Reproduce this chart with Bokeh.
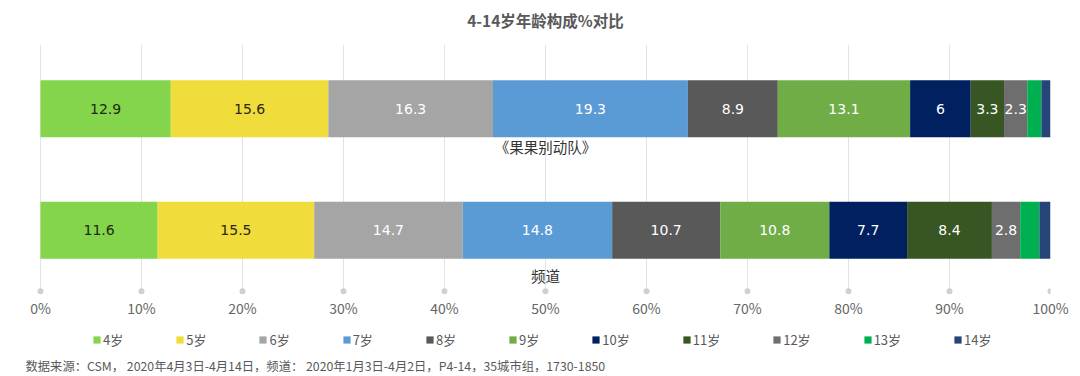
from bokeh.plotting import figure
from bokeh.layouts import column
from bokeh.models import (ColumnDataSource, FactorRange, Range1d, FixedTicker,
                          PrintfTickFormatter, Legend, LegendItem, Label)
from bokeh.transform import dodge
from bokeh.core.properties import value
from bokeh.embed import file_html
from bokeh.resources import INLINE

# ---------------- data ----------------
categories = ["频道", "《果果别动队》"]
ages = ["4岁", "5岁", "6岁", "7岁", "8岁", "9岁", "10岁", "11岁", "12岁", "13岁", "14岁"]
channel_values = [11.6, 15.5, 14.7, 14.8, 10.7, 10.8, 7.7, 8.4, 2.8, 1.9, 1.1]
program_values = [12.9, 15.6, 16.3, 19.3, 8.9, 13.1, 6, 3.3, 2.3, 1.4, 0.9]
colors = ["#84D54B", "#F0DC3A", "#A5A5A5", "#5B9BD5", "#595959", "#70AD47",
          "#002060", "#375623", "#6E6E6E", "#00B050", "#264478"]
label_colors = ["#1E2A12", "#2A2712", "#FFFFFF", "#FFFFFF", "#FFFFFF", "#FFFFFF",
                "#FFFFFF", "#FFFFFF", "#FFFFFF", "#FFFFFF", "#FFFFFF"]
tick_values = [0, 10, 20, 30, 40, 50, 60, 70, 80, 90, 100]
title_text = "4-14岁年龄构成%对比"
footer_text = "数据来源：CSM， 2020年4月3日-4月14日，频道： 2020年1月3日-4月2日，P4-14，35城市组，1730-1850"

CJK = "Noto Sans CJK SC"


def strip(height):
    f = figure(width=1080, height=height, output_backend="svg", toolbar_location=None,
               x_range=Range1d(0, 1), y_range=Range1d(0, 1),
               x_axis_location=None, y_axis_location=None,
               min_border_left=0, min_border_right=0,
               min_border_top=0, min_border_bottom=0)
    f.outline_line_color = None
    f.grid.visible = False
    f.border_fill_color = "white"
    return f


# ---------------- title strip ----------------
t = strip(44)
t.add_layout(Label(x=520, y=25, x_units="screen", y_units="screen",
                   text=title_text, text_font=CJK, text_font_size="15.5px",
                   text_font_style="bold", text_color="#595959",
                   text_align="center", text_baseline="middle"))

# ---------------- main figure ----------------
p = figure(width=1080, height=278, output_backend="svg", toolbar_location=None,
           x_range=Range1d(-1.485, 100),
           y_range=FactorRange(factors=categories, range_padding=0.03,
                               range_padding_units="absolute"),
           y_axis_location=None,
           min_border_left=25, min_border_right=30,
           min_border_top=0, min_border_bottom=28)
p.outline_line_color = None
p.background_fill_color = "white"
p.border_fill_color = "white"

data = {"cat": categories}
for i, a in enumerate(ages):
    data[a] = [channel_values[i], program_values[i]]
src = ColumnDataSource(data)

renderers = p.hbar_stack(ages, y="cat", height=0.47, color=colors, source=src,
                         line_color=None)

# value labels
lx, ly, lt, lc = [], [], [], []
for cat, vals in zip(categories, [channel_values, program_values]):
    cum = 0
    for i, v in enumerate(vals):
        if v >= 2:
            lx.append(cum + v / 2)
            ly.append(cat)
            lt.append(f"{v:g}")
            lc.append(label_colors[i])
        cum += v
lsrc = ColumnDataSource(dict(x=lx, y=ly, t=lt, c=lc))
p.text(x="x", y="y", text="t", text_color="c", source=lsrc,
       text_align="center", text_baseline="middle",
       text_font=value("DejaVu Sans"), text_font_size="14px")

# category labels under bars
offsets = [-0.37, -0.31]
for cat, off in zip(categories, offsets):
    s = ColumnDataSource(dict(x=[50], y=[cat], t=[cat]))
    p.text(x="x", y=dodge("y", off, range=p.y_range), text="t", source=s,
           text_align="center", text_baseline="middle",
           text_font=value(CJK), text_font_size="14.5px", text_color="#333333")

# tick dots
dsrc = ColumnDataSource(dict(x=tick_values, y=[categories[0]] * len(tick_values)))
p.scatter(x="x", y=dodge("y", -0.503, range=p.y_range), source=dsrc,
          size=6, color="#D0D0D0", line_color=None)

# axes / grid
p.xaxis.ticker = FixedTicker(ticks=tick_values)
p.xaxis.formatter = PrintfTickFormatter(format="%d%%")
p.xaxis.axis_line_color = None
p.xaxis.major_tick_line_color = None
p.xaxis.minor_tick_line_color = None
p.xaxis.major_label_standoff = -3
p.xaxis.major_label_text_font = CJK
p.xaxis.major_label_text_font_size = "14px"
p.xaxis.major_label_text_color = "#666666"
p.xgrid.ticker = FixedTicker(ticks=tick_values)
p.xgrid.grid_line_color = "#E3E3E3"
p.ygrid.grid_line_color = None

# ---------------- legend + footer strip ----------------
q = strip(54)
# legend-only swatches, parked outside the visible range
leg_renderers = [q.hbar(y=[-5], left=[0], right=[0.1], height=0.5, color=c,
                        line_color=None) for c in colors]
items = [LegendItem(label=a, renderers=[r]) for a, r in zip(ages, leg_renderers)]
legend = Legend(items=items, orientation="horizontal", location=(67, 27),
                glyph_width=9, glyph_height=9, label_standoff=2, spacing=52,
                label_text_font=CJK, label_text_font_size="13px",
                label_text_color="#595959", label_height=16,
                border_line_color=None, background_fill_alpha=0,
                margin=0, padding=0)
q.add_layout(legend, "center")

q.add_layout(Label(x=0, y=11, x_units="screen", y_units="screen",
                   text=footer_text, text_font=CJK, text_font_size="12.3px",
                   text_color="#595959", text_baseline="middle"))

open("out.html", "w").write(file_html(column(t, p, q, spacing=0), INLINE))
